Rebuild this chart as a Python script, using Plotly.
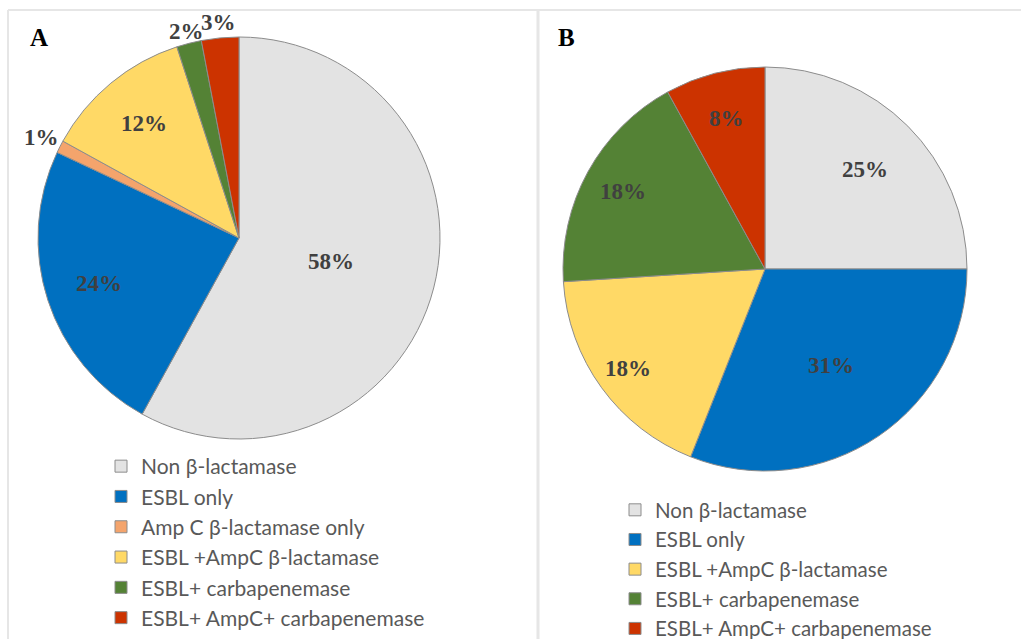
import math
import plotly.graph_objects as go

W, H = 1021, 639

labels_a = ["Non β-lactamase", "ESBL only", "Amp C β-lactamase only",
            "ESBL +AmpC β-lactamase", "ESBL+ carbapenemase", "ESBL+ AmpC+ carbapenemase"]
values_a = [58, 24, 1, 12, 2, 3]
colors_a = ["#E3E3E3", "#0070C0", "#F4A46C", "#FFD966", "#548235", "#CC3300"]
# radial position of each percentage label, as a fraction of the radius (style)
label_r_a = [0.47, 0.73, 1.10, 0.74, 1.06, 1.075]

labels_b = ["Non β-lactamase", "ESBL only", "ESBL +AmpC β-lactamase",
            "ESBL+ carbapenemase", "ESBL+ AmpC+ carbapenemase"]
values_b = [25, 31, 18, 18, 8]
colors_b = ["#E3E3E3", "#0070C0", "#FFD966", "#548235", "#CC3300"]
label_r_b = [0.70, 0.58, 0.84, 0.80, 0.77]

# pie geometry in pixels (layout)
pie_a = dict(cx=239, cy=238, r=201)
pie_b = dict(cx=765, cy=269, r=202)


def px_x(x):
    return x / W


def px_y(y):
    return 1 - y / H


def domain_of(p):
    return dict(x=[px_x(p["cx"] - p["r"]), px_x(p["cx"] + p["r"])],
                y=[px_y(p["cy"] + p["r"]), px_y(p["cy"] - p["r"])])


label_font = dict(family="Liberation Serif", size=23, color="#404040")


def pct_annotations(values, radii, p):
    total = float(sum(values))
    out = []
    cum = 0.0
    for v, rf in zip(values, radii):
        mid = (cum + v / 2.0) / total * 2 * math.pi  # clockwise from 12 o'clock
        cum += v
        x = p["cx"] + rf * p["r"] * math.sin(mid)
        y = p["cy"] - rf * p["r"] * math.cos(mid)
        out.append(dict(text="<b>%d%%</b>" % round(v / total * 100), x=px_x(x), y=px_y(y),
                        xref="paper", yref="paper", showarrow=False,
                        xanchor="center", yanchor="middle", font=label_font))
    return out


fig = go.Figure()

fig.add_trace(go.Pie(
    labels=labels_a, values=values_a, sort=False, direction="clockwise", rotation=0,
    marker=dict(colors=colors_a, line=dict(color="#8C8C8C", width=1)),
    textinfo="none", domain=domain_of(pie_a),
    legend="legend", showlegend=True, hoverinfo="label+percent",
))

fig.add_trace(go.Pie(
    labels=[l + " " for l in labels_b], values=values_b, sort=False, direction="clockwise", rotation=0,
    marker=dict(colors=colors_b, line=dict(color="#8C8C8C", width=1)),
    textinfo="none", domain=domain_of(pie_b),
    legend="legend2", showlegend=True, hoverinfo="label+percent",
))

line_style = dict(color="#E6E6E6", width=2)
shapes = [
    dict(type="line", xref="paper", yref="paper", x0=px_x(8), x1=1, y0=px_y(10), y1=px_y(10), line=line_style),
    dict(type="line", xref="paper", yref="paper", x0=px_x(8), x1=px_x(8), y0=px_y(10), y1=0, line=line_style),
    dict(type="line", xref="paper", yref="paper", x0=px_x(538), x1=px_x(538), y0=px_y(10), y1=0,
         line=dict(color="#E6E6E6", width=3)),
]

annotations = [
    dict(text="<b>A</b>", x=px_x(28), y=px_y(38), xref="paper", yref="paper", showarrow=False,
         xanchor="left", yanchor="middle", font=dict(family="Liberation Serif", size=25, color="#000000")),
    dict(text="<b>B</b>", x=px_x(556), y=px_y(38), xref="paper", yref="paper", showarrow=False,
         xanchor="left", yanchor="middle", font=dict(family="Liberation Serif", size=25, color="#000000")),
]
annotations += pct_annotations(values_a, label_r_a, pie_a)
annotations += pct_annotations(values_b, label_r_b, pie_b)

fig.update_layout(
    width=W, height=H, margin=dict(l=0, r=0, t=0, b=0, autoexpand=False),
    paper_bgcolor="white", plot_bgcolor="white",
    shapes=shapes, annotations=annotations,
    legend=dict(x=px_x(101), y=px_y(446), xanchor="left", yanchor="top",
                font=dict(family="Lato", size=21, color="#595959"),
                bgcolor="rgba(0,0,0,0)", traceorder="normal"),
    legend2=dict(x=px_x(615), y=px_y(490), xanchor="left", yanchor="top",
                 font=dict(family="Lato", size=20.5, color="#595959"),
                 bgcolor="rgba(0,0,0,0)", traceorder="normal"),
)

fig.write_html("out.html", config={"displayModeBar": False},
               post_script="document.body.style.margin='0';")
